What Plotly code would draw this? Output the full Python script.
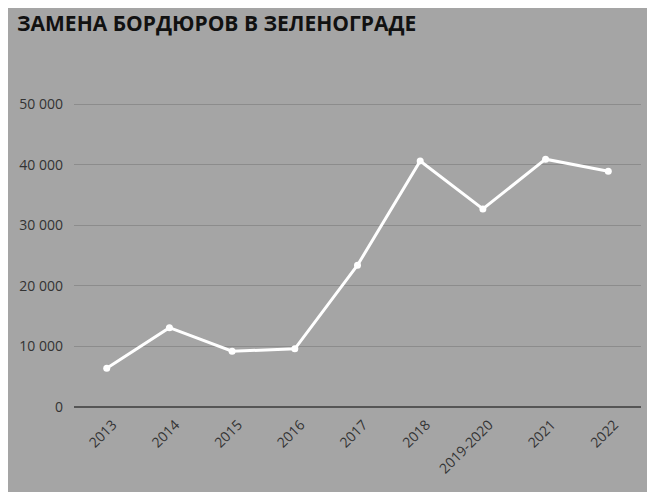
import plotly.graph_objects as go

categories = ["2013", "2014", "2015", "2016", "2017", "2018", "2019-2020", "2021", "2022"]
values = [6400, 13100, 9200, 9600, 23400, 40600, 32700, 40900, 38900]
y_ticks = [0, 10000, 20000, 30000, 40000, 50000]
y_labels = ["0", "10 000", "20 000", "30 000", "40 000", "50 000"]

fig = go.Figure()
fig.add_trace(go.Scatter(
    x=categories, y=values, mode="lines+markers",
    line=dict(color="white", width=3),
    marker=dict(color="white", size=7),
    hoverinfo="x+y",
))

fig.update_layout(
    width=655, height=492,
    paper_bgcolor="#a5a5a5", plot_bgcolor="#a5a5a5",
    margin=dict(l=66, r=22, t=90, b=93),
    showlegend=False,
    font=dict(family="Open Sans", color="#333333", size=14),
    title=dict(
        text="<b>ЗАМЕНА БОРДЮРОВ В ЗЕЛЕНОГРАДЕ</b>",
        x=0.0137, xanchor="left", y=0.968, yanchor="middle",
        font=dict(family="Open Sans", size=21, color="#111111"),
    ),
    xaxis=dict(
        type="category", tickangle=-45, showgrid=False,
        showline=False, ticks="", tickfont=dict(size=14, color="#333333"),
        zeroline=False, ticklabelstandoff=6, ticklabelshift=6,
    ),
    yaxis=dict(
        range=[0, 51000], tickvals=y_ticks, ticktext=y_labels,
        showgrid=True, gridcolor="#8c8c8c", gridwidth=1,
        zeroline=True, zerolinecolor="#555555", zerolinewidth=1.5,
        showline=False, ticks="", ticklabelstandoff=10,
        tickfont=dict(size=14, color="#333333"),
    ),
)

fig.write_html("out.html")
